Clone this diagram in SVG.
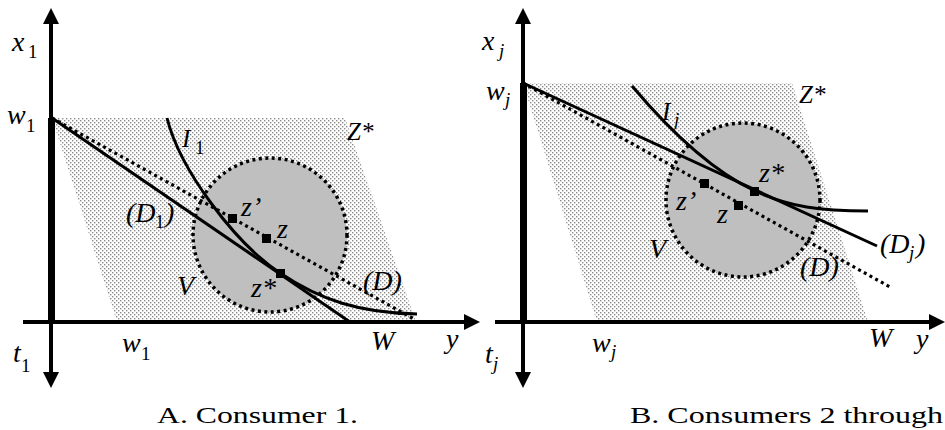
<svg xmlns="http://www.w3.org/2000/svg" width="945" height="430" viewBox="0 0 945 430">
<style>
text{font-family:'Liberation Serif',Tinos,'Times New Roman',Times,serif;fill:#000}
.m{font-style:italic;font-size:28px}
.sm{font-size:25px}
.sub{font-style:normal;font-size:19px}
.subi{font-style:italic;font-size:19px}
.cap{font-style:normal;font-size:24px}
.axis{stroke:#000;stroke-width:4;fill:none}
.solid{stroke:#000;stroke-width:3;fill:none}
.dot{stroke:#000;stroke-width:3.2;fill:none;stroke-dasharray:3 3.5}
.circ{fill:#bfbfbf;stroke:#000;stroke-width:3.5;stroke-dasharray:3 3.5}
.shade{fill:url(#dots)}
.pt{fill:#000}
</style>
<defs>
<pattern id="dots" width="4" height="4" patternUnits="userSpaceOnUse">
<rect width="4" height="4" fill="#fff"/>
<rect x="0" y="0" width="1.4" height="1.4" fill="#8c8c8c"/>
<rect x="2" y="2" width="1.4" height="1.4" fill="#8c8c8c"/>
</pattern>
<marker id="ah" markerUnits="userSpaceOnUse" markerWidth="16" markerHeight="16" viewBox="0 0 16 16" refX="12" refY="8" orient="auto-start-reverse">
<path d="M0,0 L16,8 L0,16 z" fill="#000"/>
</marker>
</defs>

<g id="panelA">
<polygon class="shade" points="52,118 345,118 416,322 117,322"/>
<circle class="circ" cx="270" cy="235" r="77"/>
<g id="connectorsA">
<line class="solid" x1="52" y1="118" x2="350" y2="322"/>
<line class="dot" x1="52" y1="118" x2="414" y2="319"/>
<path class="solid" d="M167,118 C180,170 235,243 280,273 C320,300 360,313 417,314"/>
</g>
<line class="axis" x1="51" y1="12" x2="51" y2="384" marker-start="url(#ah)" marker-end="url(#ah)"/>
<rect x="48" y="118" width="7" height="204" fill="#000"/>
<line class="axis" x1="23" y1="322" x2="476" y2="322" marker-end="url(#ah)"/>
<rect class="pt" x="228" y="214" width="9" height="9"/>
<rect class="pt" x="262" y="234" width="9" height="9"/>
<rect class="pt" x="276" y="269" width="9" height="9"/>
<text class="m" x="12" y="51">x</text><text class="m sub" x="28" y="58">1</text>
<text class="m" x="7" y="124">w</text><text class="m sub" x="26" y="132">1</text>
<text class="m sm" x="347" y="140">Z*</text>
<text class="m sm" x="182" y="147">I</text><text class="m sub" x="195" y="154">1</text>
<text class="m" x="126" y="222" font-size="25">(D</text><text class="m sub" x="155" y="228">1</text><text class="m" x="165" y="222" font-size="25">)</text>
<text class="m" x="363" y="290" font-size="25">(D)</text>
<text class="m" x="241" y="216">z’</text>
<text class="m" x="277" y="238">z</text>
<text class="m" x="251" y="297">z*</text>
<text class="m" x="177" y="295">V</text>
<text class="m" x="122" y="352">w</text><text class="m sub" x="141" y="360">1</text>
<text class="m" x="13" y="362">t</text><text class="m sub" x="21" y="372">1</text>
<text class="m" x="371" y="350">W</text>
<text class="m" x="446" y="348">y</text>
<text class="cap" x="157" y="423" textLength="201" lengthAdjust="spacingAndGlyphs">A. Consumer 1.</text>
</g>

<g id="panelB">
<polygon class="shade" points="523,83 792,83 868,322 597,322"/>
<circle class="circ" cx="743" cy="200" r="77"/>
<g id="connectorsB">
<line class="solid" x1="523" y1="83" x2="877" y2="246"/>
<line class="dot" x1="523" y1="83" x2="890" y2="287"/>
<path class="solid" d="M632,86 C665,125 710,170 755,191 C790,207 820,211 868,211"/>
</g>
<line class="axis" x1="523" y1="12" x2="523" y2="384" marker-start="url(#ah)" marker-end="url(#ah)"/>
<rect x="520" y="83" width="7" height="239" fill="#000"/>
<line class="axis" x1="495" y1="322" x2="941" y2="322" marker-end="url(#ah)"/>
<rect class="pt" x="700" y="179" width="9" height="9"/>
<rect class="pt" x="734" y="201" width="9" height="9"/>
<rect class="pt" x="750" y="187" width="9" height="9"/>
<text class="m" x="482" y="50">x</text><text class="m subi" x="499" y="57">j</text>
<text class="m" x="486" y="100">w</text><text class="m subi" x="505" y="106">j</text>
<text class="m sm" x="662" y="120">I</text><text class="m subi" x="674" y="126">j</text>
<text class="m sm" x="799" y="103">Z*</text>
<text class="m" x="759" y="182">z*</text>
<text class="m" x="676" y="210">z’</text>
<text class="m" x="717" y="223">z</text>
<text class="m" x="649" y="258">V</text>
<text class="m" x="880" y="253" font-size="25">(D</text><text class="m subi" x="909" y="259">j</text><text class="m" x="916" y="253" font-size="25">)</text>
<text class="m" x="800" y="276" font-size="25">(D)</text>
<text class="m" x="592" y="352">w</text><text class="m subi" x="611" y="358">j</text>
<text class="m" x="485" y="363">t</text><text class="m subi" x="493" y="370">j</text>
<text class="m" x="869" y="347">W</text>
<text class="m" x="916" y="348">y</text>
<text class="cap" x="630" y="423" textLength="313" lengthAdjust="spacingAndGlyphs">B. Consumers 2 through</text>
</g>
</svg>
